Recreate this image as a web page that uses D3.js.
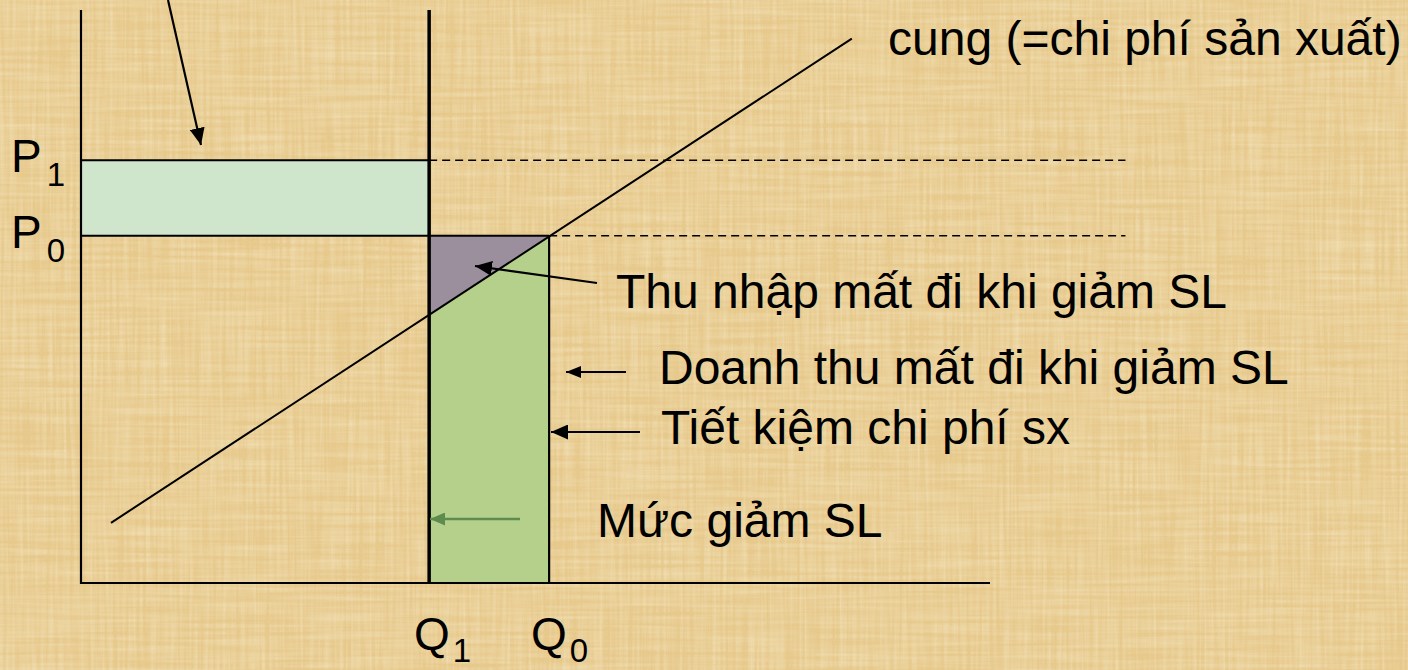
<!DOCTYPE html>
<html>
<head>
<meta charset="utf-8">
<script src="https://cdn.jsdelivr.net/npm/d3@7"></script>
<style>
  body { margin: 0; background: #e6c88a; }
  svg { display: block; }
  text { font-family: "Liberation Sans", Arial, sans-serif; fill: #000; }
</style>
</head>
<body>
<div id="chart"></div>
<script>
// values (quantity 0..100, price 0..100)
var axisMax = [100, 100];
var quantities = [38.3, 51.5];          // Q1, Q0
var prices = [73.8, 60.6];              // P1, P0
var supplyQ = [3.3, 84.8];
var supplyP = [10.5, 95.0];
var supplyAtQ1 = 46.9;
var dashEnd = 114.9;
var qLabels = ["1", "0"];
var pLabels = ["1", "0"];
var notes = ["cung (=chi phí sản xuất)", "Thu nhập mất đi khi giảm SL",
             "Doanh thu mất đi khi giảm SL", "Tiết kiệm chi phí sx", "Mức giảm SL"];

var width = 1408, height = 670;

var svg = d3.select("#chart").append("svg")
    .attr("width", width).attr("height", height);

var x = d3.scaleLinear().domain([0, axisMax[0]]).range([81, 990]);
var y = d3.scaleLinear().domain([0, axisMax[1]]).range([583, 10]);

var defs = svg.append("defs");

// papyrus-like texture: vertical and horizontal fibres
var f = defs.append("filter").attr("id", "paper").attr("x", 0).attr("y", 0)
    .attr("width", "100%").attr("height", "100%");
f.append("feTurbulence").attr("type", "fractalNoise")
    .attr("baseFrequency", "0.3 0.01").attr("numOctaves", 2).attr("seed", 3).attr("result", "v");
f.append("feTurbulence").attr("type", "fractalNoise")
    .attr("baseFrequency", "0.01 0.25").attr("numOctaves", 2).attr("seed", 7).attr("result", "h");
f.append("feComposite").attr("in", "v").attr("in2", "h").attr("operator", "arithmetic")
    .attr("k2", 0.5).attr("k3", 0.5).attr("result", "n");
f.append("feColorMatrix").attr("in", "n").attr("type", "matrix").attr("result", "light")
    .attr("values", "0 0 0 0 0.96  0 0 0 0 0.88  0 0 0 0 0.68  1.6 0 0 0 -0.55");
f.append("feColorMatrix").attr("in", "n").attr("type", "matrix").attr("result", "dark")
    .attr("values", "0 0 0 0 0.80  0 0 0 0 0.66  0 0 0 0 0.38  -1.6 0 0 0 0.6");
f.append("feMerge").call(function (m) {
    m.append("feMergeNode").attr("in", "dark");
    m.append("feMergeNode").attr("in", "light");
});

function marker(id, len, wid, color) {
    defs.append("marker").attr("id", id)
        .attr("markerUnits", "userSpaceOnUse")
        .attr("markerWidth", len).attr("markerHeight", wid)
        .attr("refX", len).attr("refY", wid / 2)
        .attr("orient", "auto")
        .append("path")
        .attr("d", "M0,0L" + len + "," + (wid / 2) + "L0," + wid + "Z")
        .attr("fill", color);
}
marker("arr", 17, 15, "#000");
marker("arrS", 15, 12, "#000");
marker("arrG", 15, 13, "#5e8c4e");

svg.append("rect").attr("width", width).attr("height", height).attr("fill", "#e6c88a");
svg.append("rect").attr("width", width).attr("height", height)
    .attr("filter", "url(#paper)").attr("opacity", 0.7);

// mint area between P1 and P0
svg.append("rect")
    .attr("x", x(0)).attr("y", y(prices[0]))
    .attr("width", x(quantities[0]) - x(0))
    .attr("height", y(prices[1]) - y(prices[0]))
    .attr("fill", "#cfe6cc");

// green area Q1..Q0 below P0
svg.append("rect")
    .attr("x", x(quantities[0])).attr("y", y(prices[1]))
    .attr("width", x(quantities[1]) - x(quantities[0]))
    .attr("height", y(0) - y(prices[1]))
    .attr("fill", "#b4d08a");

// lost income triangle
svg.append("path")
    .attr("d", d3.line()([[x(quantities[0]), y(prices[1])], [x(quantities[1]), y(prices[1])],
        [x(quantities[0]), y(supplyAtQ1)]]) + "Z")
    .attr("fill", "#9b8f9e");

// supply line
svg.append("line")
    .attr("x1", x(supplyQ[0])).attr("y1", y(supplyP[0]))
    .attr("x2", x(supplyQ[1])).attr("y2", y(supplyP[1]))
    .attr("stroke", "#000").attr("stroke-width", 2);

// price lines, solid part then dashed part
svg.append("line")
    .attr("x1", x(0)).attr("x2", x(quantities[0]))
    .attr("y1", y(prices[0])).attr("y2", y(prices[0]))
    .attr("stroke", "#000").attr("stroke-width", 2);
svg.append("line")
    .attr("x1", x(0)).attr("x2", x(quantities[1]))
    .attr("y1", y(prices[1])).attr("y2", y(prices[1]))
    .attr("stroke", "#000").attr("stroke-width", 2);
svg.append("line")
    .attr("x1", x(quantities[0])).attr("x2", x(dashEnd))
    .attr("y1", y(prices[0])).attr("y2", y(prices[0]))
    .attr("stroke", "#000").attr("stroke-width", 1.5).attr("stroke-dasharray", "8,5");
svg.append("line")
    .attr("x1", x(quantities[1])).attr("x2", x(dashEnd))
    .attr("y1", y(prices[1])).attr("y2", y(prices[1]))
    .attr("stroke", "#000").attr("stroke-width", 1.5).attr("stroke-dasharray", "8,5");

// Q0 edge
svg.append("line")
    .attr("x1", x(quantities[1])).attr("x2", x(quantities[1]))
    .attr("y1", y(prices[1])).attr("y2", y(0))
    .attr("stroke", "#000").attr("stroke-width", 2.2);

// axes
svg.append("path")
    .attr("d", "M" + x(0) + "," + y(axisMax[1]) + "V" + y(0) + "H" + x(axisMax[0]))
    .attr("fill", "none").attr("stroke", "#000").attr("stroke-width", 2.2);

// Q1 thick line
svg.append("line")
    .attr("x1", x(quantities[0])).attr("x2", x(quantities[0]))
    .attr("y1", y(axisMax[1])).attr("y2", y(0))
    .attr("stroke", "#000").attr("stroke-width", 3.5);

// arrows
function arrow(x1, y1, x2, y2, m, color, w) {
    svg.append("line")
        .attr("x1", x1).attr("y1", y1).attr("x2", x2).attr("y2", y2)
        .attr("stroke", color).attr("stroke-width", w)
        .attr("marker-end", "url(#" + m + ")");
}
arrow(168, 0, 201, 145, "arr", "#000", 2.2);
arrow(597, 283, 475, 266, "arr", "#000", 2.2);
arrow(626, 372, 566, 372, "arrS", "#000", 2);
arrow(640, 432, 551, 432, "arr", "#000", 2);
arrow(520, 519, 430, 519, "arrG", "#5e8c4e", 2.6);

// annotations
var notePos = [[888, 55], [616, 308], [659, 384], [661, 444], [597, 537]];
svg.selectAll(".note").data(notes).enter().append("text")
    .attr("class", "note")
    .attr("x", function (d, i) { return notePos[i][0]; })
    .attr("y", function (d, i) { return notePos[i][1]; })
    .style("font-size", "48px")
    .text(function (d) { return d; });

// P labels with subscripts
svg.selectAll(".plab").data(pLabels).enter().append("text")
    .attr("class", "plab")
    .attr("x", 11)
    .attr("y", function (d, i) { return y(prices[i]) + 12; })
    .style("font-size", "46px")
    .text("P")
    .append("tspan")
    .attr("dx", 5).attr("dy", 14)
    .style("font-size", "33px")
    .text(function (d) { return d; });

// Q labels with subscripts
var qLabX = [414, 531];
svg.selectAll(".qlab").data(qLabels).enter().append("text")
    .attr("class", "qlab")
    .attr("x", function (d, i) { return qLabX[i]; })
    .attr("y", 650)
    .style("font-size", "46px")
    .text("Q")
    .append("tspan")
    .attr("dx", 3).attr("dy", 12)
    .style("font-size", "33px")
    .text(function (d) { return d; });
</script>
</body>
</html>
